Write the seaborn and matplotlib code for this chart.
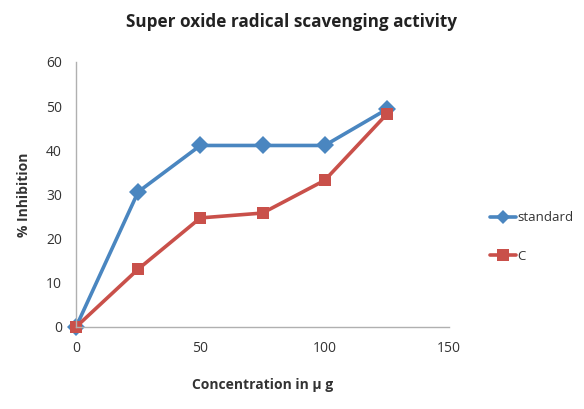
import matplotlib
matplotlib.use("Agg")
import matplotlib.pyplot as plt
import seaborn as sns
import pandas as pd
from matplotlib.lines import Line2D

concentration = [0, 25, 50, 75, 100, 125]
standard = [0, 30.6, 41.1, 41.1, 41.1, 49.3]
sample_c = [0, 13.1, 24.7, 25.8, 33.2, 48.2]

df = pd.DataFrame({
    "conc": concentration * 2,
    "inhibition": standard + sample_c,
    "series": ["standard"] * len(concentration) + ["C"] * len(concentration),
})

sns.set_style("white")
plt.rcParams["font.family"] = ["Open Sans", "DejaVu Sans"]

fig = plt.figure(figsize=(5.84, 4.09), dpi=100)
ax = fig.add_axes([76 / 584, 1 - 327 / 409, (449 - 76) / 584, (327 - 62) / 409])

palette = {"standard": "#4A86C0", "C": "#C9504A"}
sns.lineplot(data=df, x="conc", y="inhibition", hue="series", style="series",
             markers={"standard": "D", "C": "s"}, dashes=False, palette=palette,
             linewidth=2.6, markersize=9, markeredgewidth=0, ax=ax, legend=False)

ax.set_xlim(0, 150)
ax.set_ylim(0, 60)
ax.set_xticks([0, 50, 100, 150])
ax.set_yticks(range(0, 61, 10))
for side in ["top", "right"]:
    ax.spines[side].set_visible(False)
for side in ["left", "bottom"]:
    ax.spines[side].set_color("#B0B0B0")
    ax.spines[side].set_linewidth(1)
ax.tick_params(axis="both", direction="out", length=4, color="#B0B0B0",
               labelsize=10, labelcolor="#333333", pad=6)
ax.set_xlabel("Concentration in \u00b5 g", fontsize=10, fontweight="bold",
              color="#333333", labelpad=16)
ax.set_ylabel("% Inhibition", fontsize=10, fontweight="bold",
              color="#333333", labelpad=11)
for p in ax.collections + ax.lines:
    p.set_clip_on(False)

fig.text(292 / 584, 1 - 22 / 409, "Super oxide radical scavenging activity",
         ha="center", va="center", fontsize=12.3, fontweight="bold", color="#222222")

handles = [Line2D([], [], color=palette["standard"], marker="D", markersize=7, lw=2.6, markeredgewidth=0),
           Line2D([], [], color=palette["C"], marker="s", markersize=8, lw=2.6, markeredgewidth=0)]
fig.legend(handles, ["standard", "C"], loc="center left",
           bbox_to_anchor=(478 / 584, 1 - 237 / 409), frameon=False,
           fontsize=9.5, handlelength=2.0, handletextpad=0.1, labelspacing=1.9,
           labelcolor="#333333")

fig.savefig("out.png", dpi=100)
